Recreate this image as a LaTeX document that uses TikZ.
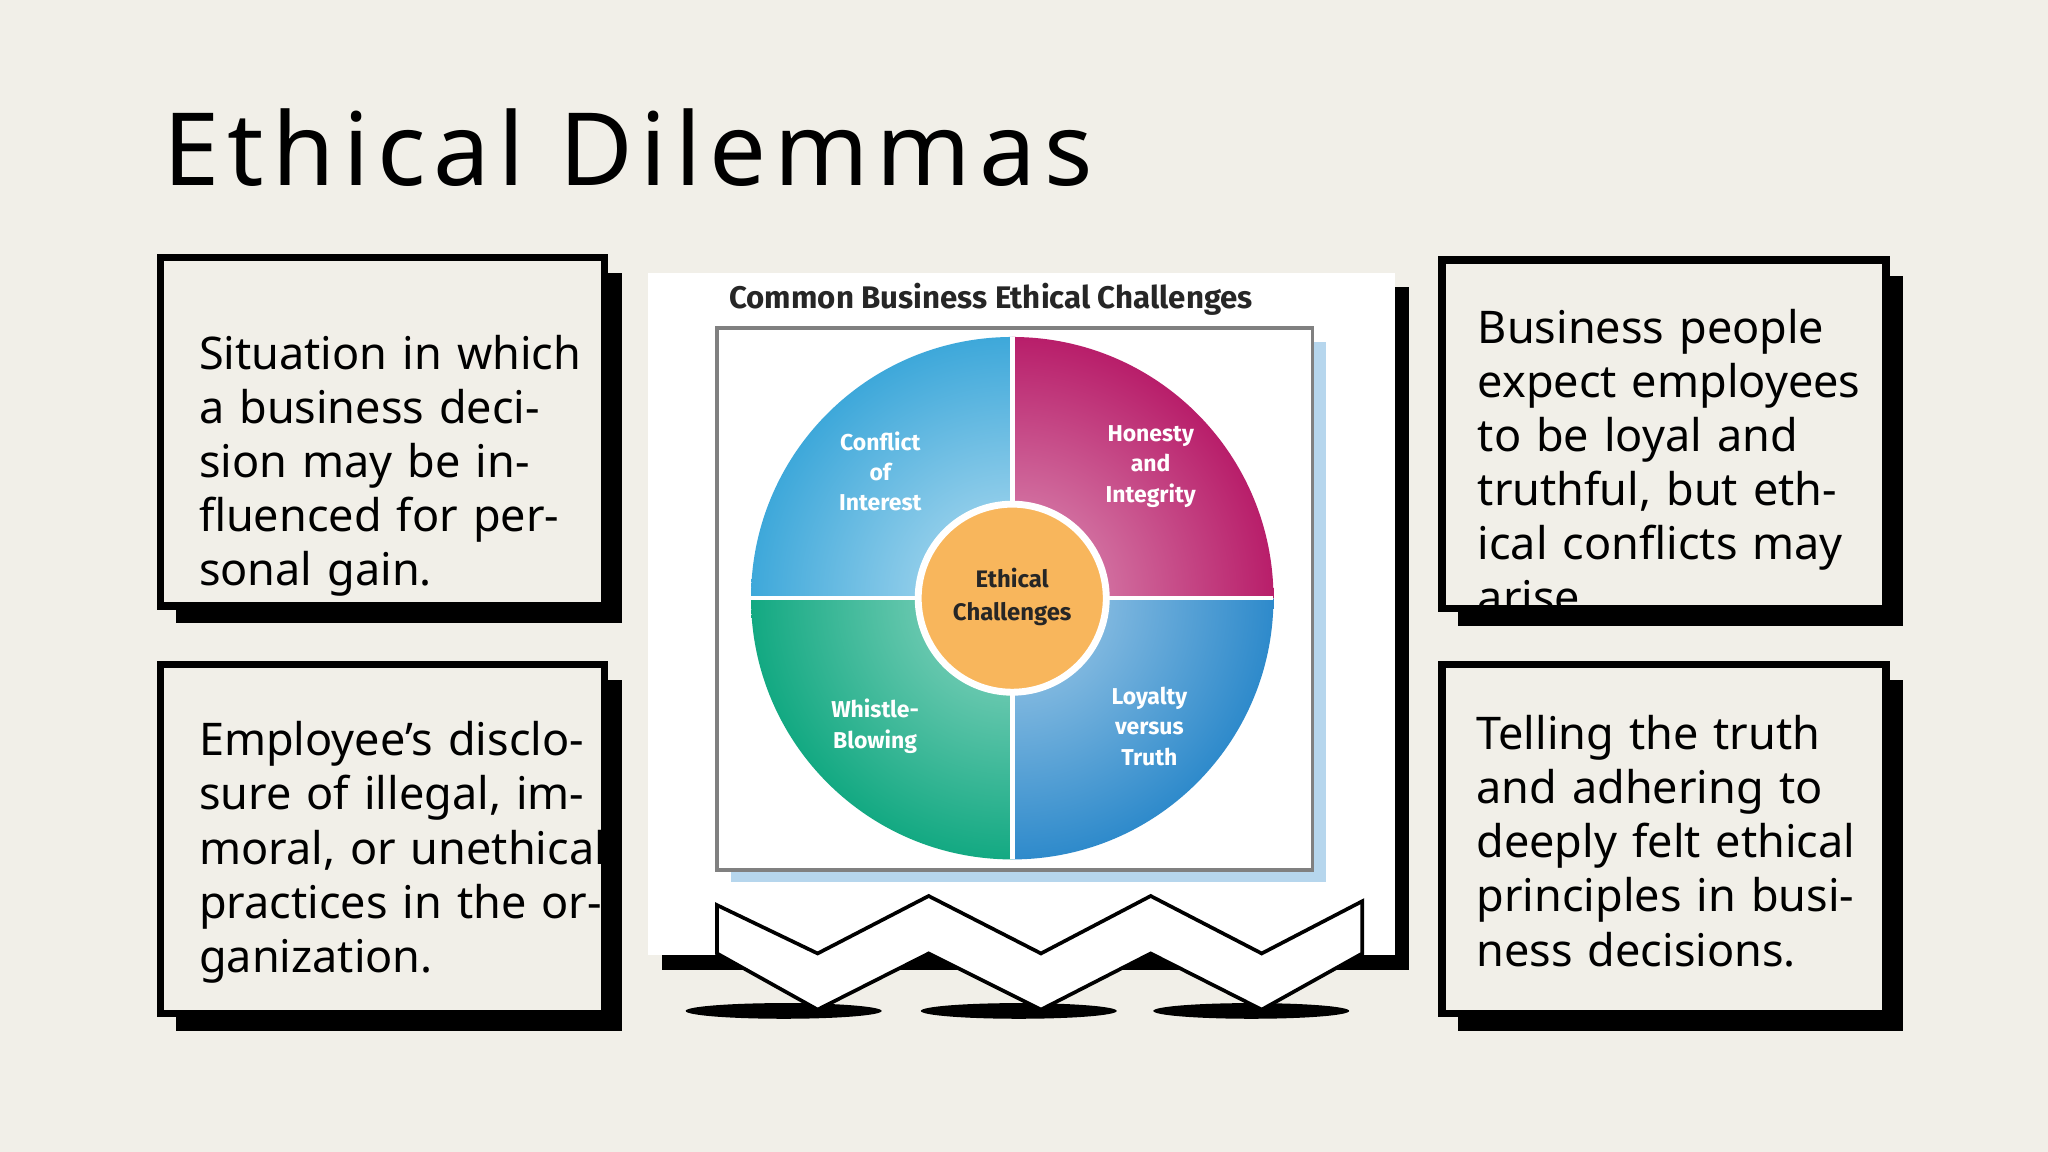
\documentclass[tikz,border=0pt]{standalone}
\usepackage{fontspec}
\setmainfont{Noto Sans}
\newfontfamily\chartfont{Fira Sans}
\newcommand\nohyph{\hyphenpenalty=10000 \exhyphenpenalty=10000 \relax}
\definecolor{bg}{HTML}{F1EFE8}
\definecolor{qa}{HTML}{3EA8DA}
\definecolor{qb}{HTML}{B81E6A}
\definecolor{qc}{HTML}{13A982}
\definecolor{qd}{HTML}{2E8ACB}
\definecolor{orng}{HTML}{F8B65C}
\begin{document}
\begin{tikzpicture}[x=0.01cm,y=-0.01cm,
  card/.style={draw=black,line width=1.6pt,fill=bg},
  shad/.style={fill=black},
  body/.style={anchor=north west,align=left,text width=3.05cm,font=\fontsize{9.8}{11.8}\selectfont},
  qlab/.style={text=white,font=\chartfont\bfseries\fontsize{5}{6.6}\selectfont,align=center}]
\useasboundingbox[fill=bg] (0,0) rectangle (1568,882);
\node[anchor=west,font=\fontsize{22}{26}\selectfont\addfontfeatures{LetterSpace=8}] (title) at (113,113) {Ethical Dilemmas};
% cards
\foreach \x/\y/\n in {123/197/a,123/509/b,1104/199/c,1104/509/d}{
  \fill[shad] (\x+12,\y+12) rectangle (\x+353,\y+280);
  \draw[card] (\x,\y) rectangle (\x+340,\y+267);
  \coordinate (\n) at (\x,\y);
}
\begin{scope}
\clip (123,197) rectangle (463,464);
\node[body] (ta) at (140,244) {\nohyph Situation in which a business decision may be influenced for personal gain.};
\end{scope}
\begin{scope}
\clip (123,509) rectangle (463,776);
\node[body,text width=3.15cm] (tb) at (140,540) {\nohyph Employee’s disclosure of illegal, immoral, or unethical practices in the organization.};
\end{scope}
\begin{scope}
\clip (1104,199) rectangle (1444,466);
\node[body,text width=2.95cm] (tc) at (1119,224) {\nohyph Business people expect employees to be loyal and truthful, but ethical conflicts may arise.};
\end{scope}
\begin{scope}
\clip (1104,509) rectangle (1444,776);
\node[body,text width=2.95cm] (td) at (1118,535) {\nohyph Telling the truth and adhering to deeply felt ethical principles in business decisions.};
\end{scope}
% center panel
\fill[shad] (507,220) rectangle (1079,743);
\fill[white] (496,209) rectangle (1068,731);
\foreach \cx in {600,780,958} \fill[black] (\cx,774) ellipse (75 and 6);
\draw[black,line width=0.8pt,fill=white] (549,693) -- (626,730) -- (711,686) -- (797,730) -- (881,686) -- (966,730) -- (1043,690) -- (1043,730) -- (966,773) -- (881,730) -- (797,773) -- (711,730) -- (626,773) -- (549,730) -- cycle;
\node[anchor=west,font=\chartfont\bfseries\fontsize{6.8}{8}\selectfont,text=black!85] (ct) at (546,229) {Common Business Ethical Challenges};
\fill[qd!35] (560,262) rectangle (1015,675);
\draw[black!50,fill=white,line width=0.8pt] (549,251) rectangle (1005,666);
\def\R{200}
\begin{scope}\clip (775,458) circle (\R); \clip (775-\R,458-\R) rectangle (775,458);
\shade[inner color=qa!35,outer color=qa] (775,458) circle (\R);\end{scope}
\begin{scope}\clip (775,458) circle (\R); \clip (775+\R,458-\R) rectangle (775,458);
\shade[inner color=qb!45,outer color=qb] (775,458) circle (\R);\end{scope}
\begin{scope}\clip (775,458) circle (\R); \clip (775-\R,458+\R) rectangle (775,458);
\shade[inner color=qc!45,outer color=qc] (775,458) circle (\R);\end{scope}
\begin{scope}\clip (775,458) circle (\R); \clip (775+\R,458+\R) rectangle (775,458);
\shade[inner color=qd!40,outer color=qd] (775,458) circle (\R);\end{scope}
\draw[white,line width=1pt] (775-\R,458) -- (775+\R,458) (775,458-\R) -- (775,458+\R);
\draw[white,line width=1.5pt,fill=orng] (775,458) circle (72);
\node[font=\chartfont\bfseries\fontsize{5.2}{7.2}\selectfont,align=center,text=black!85] (ce) at (775,457) {Ethical\\Challenges};
\node[qlab] (q1) at (674,361) {Conflict\\of\\Interest};
\node[qlab] (q2) at (881,357) {Honesty\\and\\Integrity};
\node[qlab] (q3) at (670,556) {Whistle-\\Blowing};
\node[qlab] (q4) at (880,556) {Loyalty\\versus\\Truth};
\end{tikzpicture}
\end{document}
